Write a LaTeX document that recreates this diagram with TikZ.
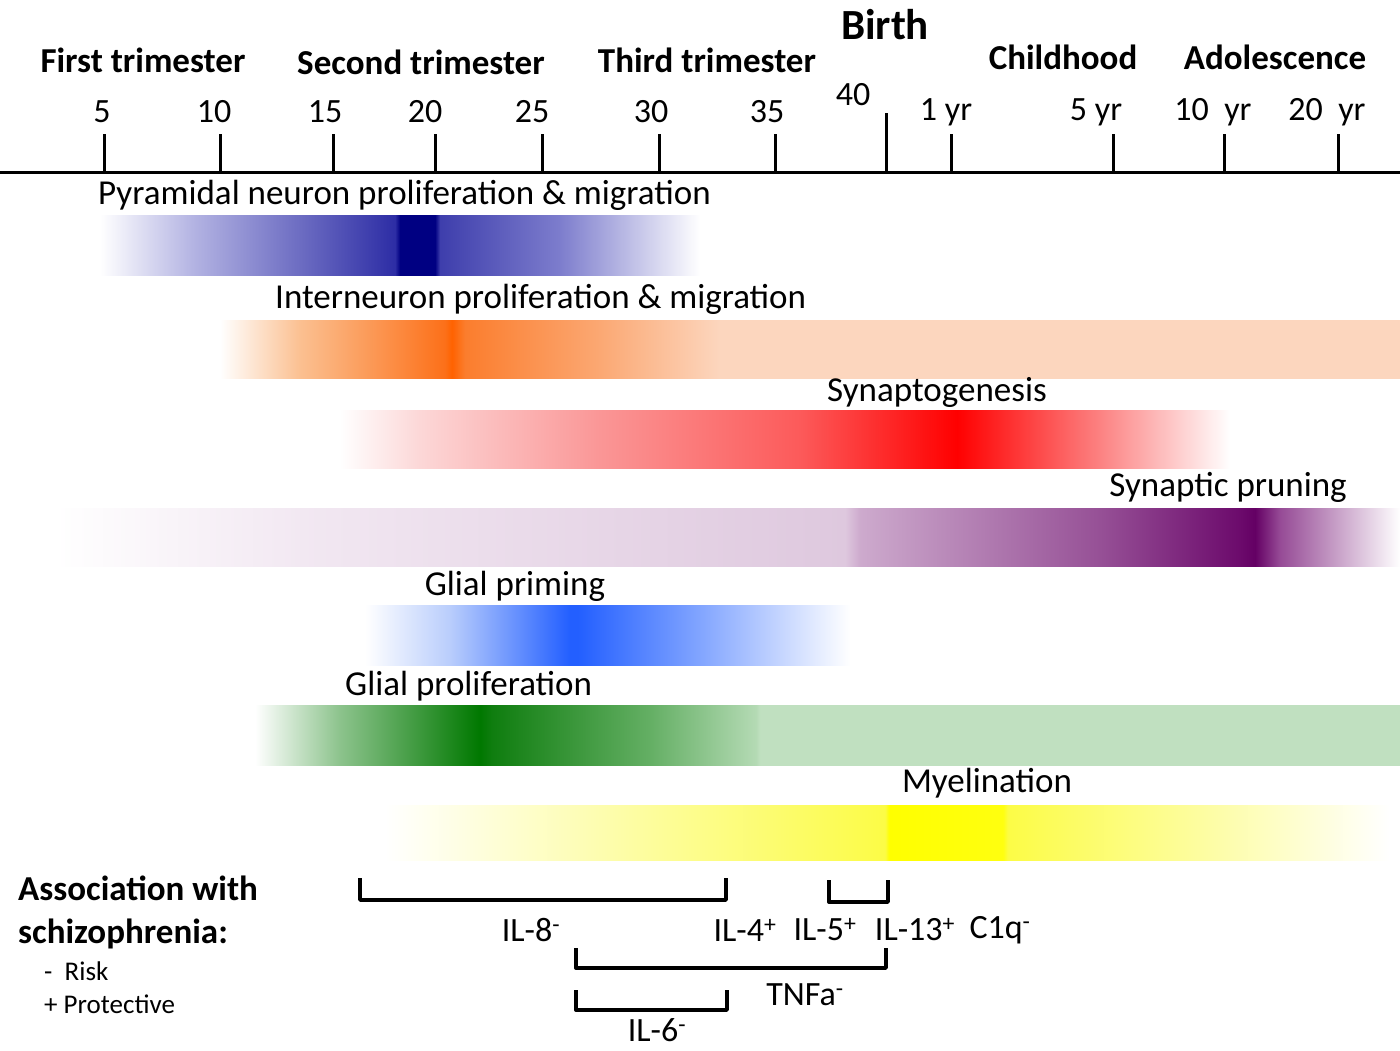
\documentclass[tikz,border=0pt]{standalone}
\usepackage{fontspec}
\setmainfont{Carlito}
\usetikzlibrary{positioning}

% bar colours
\definecolor{pyrA}{RGB}{178,178,226}
\definecolor{pyrB}{RGB}{45,45,165}
\definecolor{pyrC}{RGB}{0,0,130}
\definecolor{pyrD}{RGB}{62,62,172}
\definecolor{pyrE}{RGB}{125,125,205}
\definecolor{intA}{RGB}{251,192,145}
\definecolor{intB}{RGB}{252,112,25}
\definecolor{intC}{RGB}{255,98,0}
\definecolor{intD}{RGB}{251,125,45}
\definecolor{intE}{RGB}{251,168,115}
\definecolor{intF}{RGB}{252,214,190}
\definecolor{synA}{RGB}{252,215,215}
\definecolor{synB}{RGB}{250,150,150}
\definecolor{synC}{RGB}{252,90,90}
\definecolor{synD}{RGB}{255,0,0}
\definecolor{synE}{RGB}{252,130,130}
\definecolor{prnA}{RGB}{242,232,242}
\definecolor{prnB}{RGB}{222,200,222}
\definecolor{prnC}{RGB}{205,170,205}
\definecolor{prnD}{RGB}{150,80,150}
\definecolor{prnE}{RGB}{108,10,108}
\definecolor{prnF}{RGB}{100,0,100}
\definecolor{prnG}{RGB}{150,75,150}
\definecolor{gpmA}{RGB}{185,205,252}
\definecolor{gpmB}{RGB}{35,95,255}
\definecolor{gpmC}{RGB}{130,165,255}
\definecolor{glpA}{RGB}{140,195,140}
\definecolor{glpB}{RGB}{0,120,0}
\definecolor{glpC}{RGB}{15,125,15}
\definecolor{glpD}{RGB}{100,175,100}
\definecolor{glpE}{RGB}{180,218,180}
\definecolor{glpF}{RGB}{192,224,192}
\definecolor{myeA}{RGB}{253,253,175}
\definecolor{myeB}{RGB}{252,252,70}
\definecolor{myeC}{RGB}{255,255,0}
\definecolor{myeD}{RGB}{255,255,15}
\definecolor{myeE}{RGB}{253,253,160}

\pgfdeclarehorizontalshading{pyrshade}{100bp}{color(0bp)=(white); color(25bp)=(white);
  color(32.92bp)=(pyrA); color(49.58bp)=(pyrB); color(50bp)=(pyrC); color(52.92bp)=(pyrC);
  color(53.33bp)=(pyrD); color(63.33bp)=(pyrE); color(75bp)=(white); color(100bp)=(white)}
\pgfdeclarehorizontalshading{intshade}{100bp}{color(0bp)=(white); color(25bp)=(white);
  color(28.39bp)=(intA); color(34.53bp)=(intB); color(34.83bp)=(intC); color(35.38bp)=(intD);
  color(41.10bp)=(intE); color(46.19bp)=(intF); color(75bp)=(intF); color(100bp)=(intF)}
\pgfdeclarehorizontalshading{synshade}{100bp}{color(0bp)=(white); color(25bp)=(white);
  color(29.49bp)=(synA); color(39.61bp)=(synB); color(50.84bp)=(synC); color(59.66bp)=(synD);
  color(67.70bp)=(synE); color(75bp)=(white); color(100bp)=(white)}
\pgfdeclarehorizontalshading{prnshade}{100bp}{color(0bp)=(white); color(25bp)=(white);
  color(34.11bp)=(prnA); color(54.37bp)=(prnB); color(54.93bp)=(prnC); color(63.85bp)=(prnD);
  color(69.05bp)=(prnE); color(69.61bp)=(prnF); color(70.54bp)=(prnG); color(75bp)=(white);
  color(100bp)=(white)}
\pgfdeclarehorizontalshading{gpmshade}{100bp}{color(0bp)=(white); color(25bp)=(white);
  color(33.76bp)=(gpmA); color(46.13bp)=(gpmB); color(46.96bp)=(gpmB); color(59.54bp)=(gpmC);
  color(75bp)=(white); color(100bp)=(white)}
\pgfdeclarehorizontalshading{glpshade}{100bp}{color(0bp)=(white); color(25bp)=(white);
  color(28.71bp)=(glpA); color(34.83bp)=(glpB); color(35.35bp)=(glpC); color(42.25bp)=(glpD);
  color(46.88bp)=(glpE); color(47.05bp)=(glpF); color(75bp)=(glpF); color(100bp)=(glpF)}
\pgfdeclarehorizontalshading{myeshade}{100bp}{color(0bp)=(white); color(25bp)=(white);
  color(35.59bp)=(myeA); color(49.63bp)=(myeB); color(49.83bp)=(myeC); color(55.44bp)=(myeD);
  color(55.69bp)=(myeB); color(65.15bp)=(myeE); color(74.5bp)=(white); color(100bp)=(white)}

\begin{document}
\begin{tikzpicture}[x=1pt,y=-1pt,
    txt/.style={inner sep=0pt,font=\fontsize{35}{40}\selectfont},
    num/.style={txt,font=\fontsize{34}{38}\selectfont},
    head/.style={txt,font=\bfseries\fontsize{35}{40}\selectfont},
    small/.style={txt,font=\fontsize{27}{30}\selectfont},
    tick/.style={line width=3pt},
    bracket/.style={line width=3.4pt,line join=round}]
    \useasboundingbox (0,0) rectangle (1400,1050);

    % headings
    \node[head] (first) at (143,60) {First trimester};
    \node[head] (second) at (421,62) {Second trimester};
    \node[head] (third) at (707,60) {Third trimester};
    \node[head,font=\bfseries\fontsize{43}{48}\selectfont] (birth) at (885,25) {Birth};
    \node[head] (child) at (1063,57) {Childhood};
    \node[head] (adol) at (1275,57) {Adolescence};

    % time axis
    \draw[tick] (0,172) -- (1400,172);
    \foreach \tx/\lx/\lab in {104/102/5, 220/214/10, 333/325/15, 435/425/20,
        542/532/25, 659/651/30, 775/767/35, 951/946/1 yr, 1113/1096/5 yr,
        1224/1213/10\ \ yr, 1338/1327/20\ \ yr} {
      \draw[tick] (\tx,134) -- (\tx,172);
      \node[num] at (\lx,112) {\lab};
    }
    \draw[tick] (886,113) -- (886,172);
    \node[num] (forty) at (853,95) {40};

    % developmental bars
    \shade[shading=pyrshade] (100,215) rectangle (700,275);
    \node[txt,anchor=base west] (pyr) at (98,204) {Pyramidal neuron proliferation \& migration};
    \shade[shading=intshade] (220,320) rectangle (1400,378);
    \node[txt,anchor=base west] (inter) at (275,308) {Interneuron proliferation \& migration};
    \shade[shading=synshade] (340,410) rectangle (1230,468);
    \node[txt,anchor=base] (syno) at (937,401) {Synaptogenesis};
    \shade[shading=prnshade] (55,508) rectangle (1400,566);
    \node[txt,anchor=base east] (prune) at (1347,496) {Synaptic pruning};
    \shade[shading=gpmshade] (365,605) rectangle (850,665);
    \node[txt,anchor=base] (gprime) at (515,595) {Glial priming};
    \shade[shading=glpshade] (255,705) rectangle (1400,765);
    \node[txt,anchor=base west] (gprol) at (345,695) {Glial proliferation};
    \shade[shading=myeshade] (385,805) rectangle (1400,860);
    \node[txt,anchor=base] (myel) at (987,792) {Myelination};

    % association with schizophrenia
    \node[head,anchor=base west] (assoc) at (18,900) {Association with};
    \node[head,anchor=base west] (schiz) at (18,943) {schizophrenia:};
    \node[small,anchor=base west] (risk) at (44,980) {-\ \ Risk};
    \node[small,anchor=base west] (prot) at (44,1013) {+ Protective};

    \coordinate (il8l) at (360,878);
    \coordinate (il8r) at (726,878);
    \coordinate (il5l) at (829,880);
    \coordinate (il5r) at (888,880);
    \coordinate (tnfl) at (576,948);
    \coordinate (tnfr) at (886,948);
    \coordinate (il6l) at (576,990);
    \coordinate (il6r) at (727,990);
    \draw[bracket] (il8l) -- ++(0,22) -| (il8r);
    \draw[bracket] (il5l) -- ++(0,22) -| (il5r);
    \draw[bracket] (tnfl) -- ++(0,20) -| (tnfr);
    \draw[bracket] (il6l) -- ++(0,20) -| (il6r);

    \node[num] (il8) at (531,930) {IL-8\textsuperscript{-}};
    \node[num] (il4) at (745,930) {IL-4\textsuperscript{+}};
    \node[num] (il5) at (825,930) {IL-5\textsuperscript{+}};
    \node[num] (il13) at (915,930) {IL-13\textsuperscript{+}};
    \node[num] (c1q) at (1000,930) {C1q\textsuperscript{-}};
    \node[num] (tnf) at (805,995) {TNFa\textsuperscript{-}};
    \node[num] (il6) at (657,1030) {IL-6\textsuperscript{-}};
\end{tikzpicture}
\end{document}
